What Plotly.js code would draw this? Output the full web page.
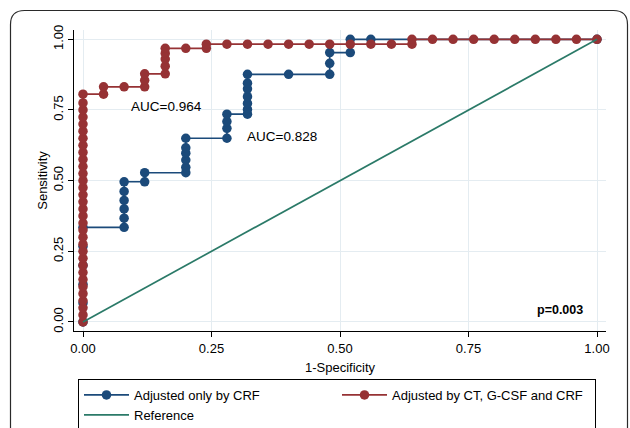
<!DOCTYPE html>
<html>
<head>
<meta charset="utf-8">
<script src="https://cdn.plot.ly/plotly-3.0.1.min.js"></script>
<style>
  html, body { margin: 0; padding: 0; background: #ffffff; }
  #chart { width: 630px; height: 428px; }
</style>
</head>
<body>
<div id="chart"></div>
<script>
// Series names
const seriesNames = ["Adjusted only by CRF", "Adjusted by CT, G-CSF and CRF", "Reference"];

// Adjusted only by CRF (1-specificity, sensitivity)
const crfX = [0, 0, 0, 0, 0, 0,
  0.08, 0.08, 0.08, 0.08, 0.08, 0.08,
  0.12, 0.12,
  0.20, 0.20, 0.20, 0.20, 0.20, 0.20,
  0.28, 0.28, 0.28, 0.28,
  0.32, 0.32, 0.32, 0.32, 0.32, 0.32, 0.32,
  0.40,
  0.48, 0.48, 0.48,
  0.52, 0.52,
  0.56,
  1.00];
const crfY = [0, 0.067, 0.133, 0.200, 0.267, 0.335,
  0.335, 0.367, 0.400, 0.430, 0.462, 0.496,
  0.496, 0.528,
  0.528, 0.547, 0.573, 0.597, 0.616, 0.650,
  0.650, 0.685, 0.709, 0.735,
  0.735, 0.752, 0.773, 0.797, 0.825, 0.845, 0.876,
  0.876,
  0.876, 0.915, 0.953,
  0.953, 1.000,
  1.000,
  1.000];

// Adjusted by CT, G-CSF and CRF
const allX = [0, 0, 0, 0, 0, 0, 0, 0, 0, 0, 0, 0, 0, 0, 0, 0, 0,
  0, 0, 0, 0, 0, 0, 0, 0, 0, 0, 0, 0, 0, 0, 0, 0,
  0.04, 0.04,
  0.08,
  0.12, 0.12, 0.12,
  0.16, 0.16, 0.16, 0.16, 0.16,
  0.20,
  0.24, 0.24,
  0.28, 0.32, 0.36, 0.40, 0.44, 0.48, 0.52, 0.56, 0.60,
  0.64, 0.64,
  0.68, 0.72, 0.76, 0.80, 0.84, 0.88, 0.92, 0.96, 1.00];
const allY = [0, 0.025, 0.05, 0.075, 0.1, 0.125, 0.15, 0.175, 0.2, 0.225, 0.25, 0.275, 0.3, 0.325, 0.35, 0.375, 0.4,
  0.425, 0.45, 0.475, 0.5, 0.525, 0.55, 0.575, 0.6, 0.625, 0.65, 0.675, 0.7, 0.725, 0.75, 0.775, 0.806,
  0.806, 0.832,
  0.832,
  0.832, 0.855, 0.878,
  0.878, 0.905, 0.930, 0.950, 0.968,
  0.968,
  0.968, 0.983,
  0.983, 0.983, 0.983, 0.983, 0.983, 0.983, 0.983, 0.983, 0.983,
  0.983, 1.000,
  1.000, 1.000, 1.000, 1.000, 1.000, 1.000, 1.000, 1.000, 1.000];

// Reference diagonal
const refX = [0, 1];
const refY = [0, 1];

// Axis ticks
const tickVals = [0, 0.25, 0.5, 0.75, 1];
const tickText = ["0.00", "0.25", "0.50", "0.75", "1.00"];

// Annotations
const aucLabels = ["AUC=0.964", "AUC=0.828"];
const aucPos = [[0.1615, 0.764], [0.387, 0.655]];
const pLabel = "p=0.003";
const pPos = [0.928, 0.042];

const FONT = "Liberation Sans, Arial, Helvetica, sans-serif";
const BLUE = "#1b4a7a";
const RED = "#963234";
const GREEN = "#2b7a68";

const traces = [
  {x: crfX, y: crfY, name: seriesNames[0], type: "scatter", mode: "lines+markers",
   line: {color: BLUE, width: 1.7}, marker: {color: BLUE, size: 9.5}},
  {x: allX, y: allY, name: seriesNames[1], type: "scatter", mode: "lines+markers",
   line: {color: RED, width: 1.7}, marker: {color: RED, size: 9.5}},
  {x: refX, y: refY, name: seriesNames[2], type: "scatter", mode: "lines",
   line: {color: GREEN, width: 1.7}}
];

// Plot area in pixels: left 74, right 606, top 30, bottom 331
const pl = 74, pr = 606, pt = 30, pb = 331;
const pw = pr - pl, ph = pb - pt;
function px(v) { return (v - pl) / pw; }
function py(v) { return (pb - v) / ph; }
const L = px(10.5), R = px(627.5), T = py(10.5), B = py(460);
const rx = 14 / pw, ry = 14 / ph;
const framePath = `M ${L},${B} L ${L},${T - ry} Q ${L},${T} ${L + rx},${T} L ${R - rx},${T} Q ${R},${T} ${R},${T - ry} L ${R},${B}`;

const layout = {
  width: 630, height: 428,
  margin: {l: pl, r: 630 - pr, t: pt, b: 428 - pb, pad: 0},
  paper_bgcolor: "#ffffff", plot_bgcolor: "#ffffff",
  font: {family: FONT, size: 13, color: "#000000"},
  showlegend: true,
  xaxis: {
    range: [-0.0175, 1.0175], tickvals: tickVals, ticktext: tickText,
    showgrid: true, gridcolor: "#e4ecf1", gridwidth: 1, zeroline: false,
    showline: true, linecolor: "#000000", linewidth: 1.2,
    ticks: "outside", ticklen: 5, tickcolor: "#000000", tickwidth: 1,
    tickfont: {family: FONT, size: 13, color: "#000000"},
    title: {text: "1-Specificity", font: {family: FONT, size: 13, color: "#000000"}, standoff: 8},
    automargin: false
  },
  yaxis: {
    range: [-0.032, 1.033], tickvals: tickVals, ticktext: tickText, tickangle: -90,
    showgrid: true, gridcolor: "#e4ecf1", gridwidth: 1, zeroline: false,
    showline: true, linecolor: "#000000", linewidth: 1.2,
    ticks: "outside", ticklen: 5, tickcolor: "#000000", tickwidth: 1,
    tickfont: {family: FONT, size: 13, color: "#000000"},
    title: {text: "Sensitivity", font: {family: FONT, size: 13, color: "#000000"}, standoff: 0},
    automargin: false
  },
  legend: {
    orientation: "h", xref: "container", yref: "container",
    x: 78 / 630, y: 1 - 379 / 428, xanchor: "left", yanchor: "top",
    bordercolor: "#000000", borderwidth: 1, bgcolor: "#ffffff",
    entrywidth: 198, entrywidthmode: "pixels", itemwidth: 45,
    font: {family: FONT, size: 13, color: "#000000"},
    traceorder: "normal"
  },
  annotations: [
    {x: aucPos[0][0], y: aucPos[0][1], xref: "x", yref: "y", text: aucLabels[0], showarrow: false,
     font: {family: FONT, size: 13.5, color: "#000000"}},
    {x: aucPos[1][0], y: aucPos[1][1], xref: "x", yref: "y", text: aucLabels[1], showarrow: false,
     font: {family: FONT, size: 13.5, color: "#000000"}},
    {x: pPos[0], y: pPos[1], xref: "x", yref: "y", text: "<b>" + pLabel + "</b>", showarrow: false,
     font: {family: FONT, size: 12.5, color: "#000000"}}
  ],
  shapes: [
    {type: "path", xref: "paper", yref: "paper", path: framePath,
     line: {color: "#2a2a2a", width: 1.2}, layer: "above"}
  ]
};

Plotly.newPlot("chart", traces, layout, {displayModeBar: false, staticPlot: true});
</script>
</body>
</html>
